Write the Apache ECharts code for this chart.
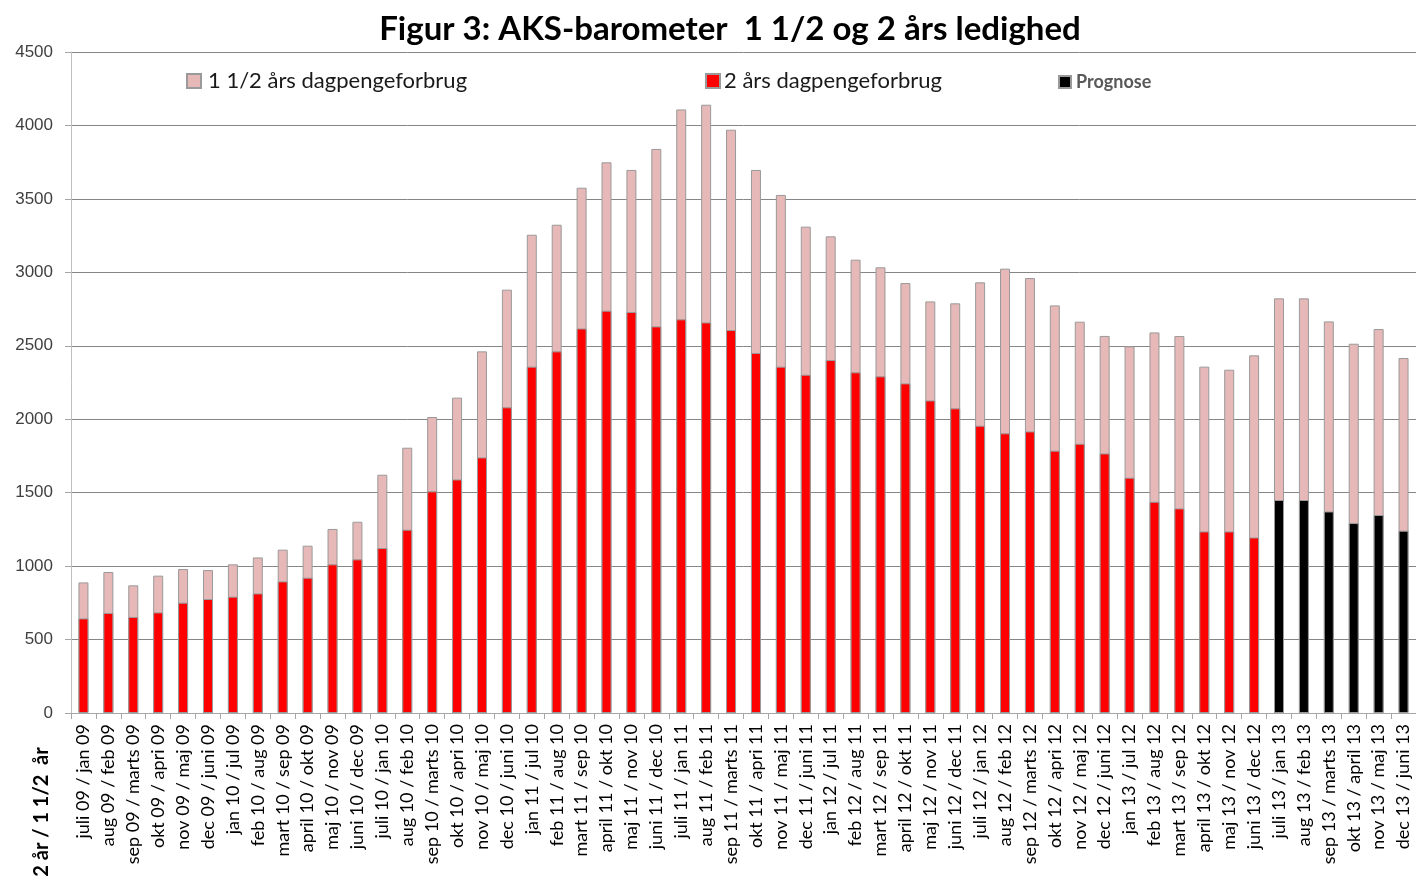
<!DOCTYPE html>
<html>
<head>
<meta charset="utf-8">
<script src="https://cdn.jsdelivr.net/npm/echarts@6/dist/echarts.min.js"></script>
<style>
  html, body { margin: 0; padding: 0; background: #fff; }
  #chart { width: 1416px; height: 880px; }
</style>
</head>
<body>
<div id="chart"></div>
<script>
// kategorier (x-akse)
const categories = [
  'juli 09 / jan 09', 'aug 09 / feb 09', 'sep 09 / marts 09', 'okt 09 / apri 09',
  'nov 09 / maj 09', 'dec 09 / juni 09', 'jan 10 / jul 09', 'feb 10 / aug 09',
  'mart 10 / sep 09', 'april 10 / okt 09', 'maj 10 / nov 09', 'juni 10 / dec 09',
  'juli 10 / jan 10', 'aug 10 / feb 10', 'sep 10 / marts 10', 'okt 10 / apri 10',
  'nov 10 / maj 10', 'dec 10 / juni 10', 'jan 11 / jul 10', 'feb 11 / aug 10',
  'mart 11 / sep 10', 'april 11 / okt 10', 'maj 11 / nov 10', 'juni 11 / dec 10',
  'juli 11 / jan 11', 'aug 11 / feb 11', 'sep 11 / marts 11', 'okt 11 / apri 11',
  'nov 11 / maj 11', 'dec 11 / juni 11', 'jan 12 / jul 11', 'feb 12 / aug 11',
  'mart 12 / sep 11', 'april 12 / okt 11', 'maj 12 / nov 11', 'juni 12 / dec 11',
  'juli 12 / jan 12', 'aug 12 / feb 12', 'sep 12 / marts 12', 'okt 12 / apri 12',
  'nov 12 / maj 12', 'dec 12 / juni 12', 'jan 13 / jul 12', 'feb 13 / aug 12',
  'mart 13 / sep 12', 'april 13 / okt 12', 'maj 13 / nov 12', 'juni 13 / dec 12',
  'juli 13 / jan 13', 'aug 13 / feb 13', 'sep 13 / marts 13', 'okt 13 / april 13',
  'nov 13 / maj 13', 'dec 13 / juni 13'
];

// 1 1/2 års dagpengeforbrug (hele søjlen)
const halvandetAar = [
  889, 960, 869, 935, 980, 973, 1012, 1059, 1112, 1139, 1253, 1302,
  1622, 1806, 2015, 2147, 2462, 2882, 3256, 3324, 3576, 3749, 3697, 3840,
  4109, 4141, 3971, 3697, 3527, 3311, 3245, 3086, 3034, 2927, 2802, 2789,
  2932, 3025, 2961, 2775, 2664, 2567, 2496, 2591, 2566, 2358, 2337, 2435,
  2823, 2823, 2666, 2514, 2614, 2417
];

// 2 års dagpengeforbrug (faktiske tal)
const toAar = [
  644, 681, 654, 685, 751, 776, 792, 814, 896, 921, 1012, 1046,
  1123, 1248, 1509, 1590, 1740, 2081, 2358, 2462, 2618, 2739, 2730, 2632,
  2680, 2659, 2607, 2451, 2358, 2303, 2403, 2319, 2292, 2244, 2128, 2074,
  1956, 1904, 1917, 1786, 1833, 1767, 1602, 1438, 1393, 1236, 1236, 1195
];

// prognose for 2 år (sidste 6 måneder)
const prognose = [1450, 1450, 1372, 1293, 1348, 1241];

const yTicks = { min: 0, max: 4500, interval: 500 };

const redData = categories.map((c, i) => (i < toAar.length ? toAar[i] : '-'));
const blackData = categories.map((c, i) => {
  const k = i - toAar.length;
  return k >= 0 ? prognose[k] : '-';
});

const chart = echarts.init(document.getElementById('chart'));

const barBorder = { borderColor: '#9a9a9a', borderWidth: 1 };

const option = {
  animation: false,
  title: {
    text: 'Figur 3: AKS-barometer  1 1/2 og 2 års ledighed',
    left: 725,
    top: 8,
    textAlign: 'center',
    textStyle: { fontFamily: 'Lato', fontWeight: 'bold', fontSize: 33, color: '#000' }
  },
  legend: [
    {
      data: ['1 1/2 års dagpengeforbrug'],
      icon: 'rect',
      padding: 0,
      left: 186, top: 70,
      itemWidth: 14, itemHeight: 14,
      textStyle: { fontFamily: 'Lato', fontSize: 22, color: '#1a1a1a', padding: [0, 0, 0, 2] }
    },
    {
      data: ['2 års dagpengeforbrug'],
      icon: 'rect',
      padding: 0,
      left: 705, top: 70,
      itemWidth: 14, itemHeight: 14,
      textStyle: { fontFamily: 'Lato', fontSize: 22, color: '#1a1a1a', padding: [0, 0, 0, -1] }
    },
    {
      data: ['Prognose'],
      icon: 'rect',
      padding: 0,
      left: 1058, top: 73,
      itemWidth: 12, itemHeight: 12,
      textStyle: { fontFamily: 'Lato', fontSize: 18, fontWeight: 'bold', color: '#595959', padding: [0, 0, 0, 0] }
    }
  ],
  grid: { left: 71, right: -2, top: 52, bottom: 167, containLabel: false },
  xAxis: {
    type: 'category',
    data: categories,
    axisLine: { lineStyle: { color: '#a6a6a6', width: 1 } },
    axisTick: { show: true, length: 6, lineStyle: { color: '#a6a6a6' } },
    axisLabel: {
      interval: 0, rotate: 90, margin: 11,
      fontFamily: 'Lato', fontSize: 18, color: '#000'
    }
  },
  yAxis: {
    type: 'value',
    min: yTicks.min, max: yTicks.max, interval: yTicks.interval,
    axisLine: { show: true, lineStyle: { color: '#bfbfbf' } },
    axisTick: { show: true, length: 6, lineStyle: { color: '#a6a6a6' } },
    splitLine: { lineStyle: { color: '#868686', width: 1 } },
    axisLabel: {
      margin: 18, fontFamily: 'Liberation Sans', fontSize: 17, color: '#404040',
      formatter: v => String(v)
    }
  },
  series: [
    {
      name: '1 1/2 års dagpengeforbrug',
      type: 'bar',
      barWidth: 10,
      barGap: '-100%',
      itemStyle: Object.assign({ color: '#e6b8b7' }, barBorder),
      data: halvandetAar
    },
    {
      name: '2 års dagpengeforbrug',
      type: 'bar',
      barWidth: 10,
      barGap: '-100%',
      itemStyle: Object.assign({ color: '#ff0000' }, barBorder),
      data: redData
    },
    {
      name: 'Prognose',
      type: 'bar',
      barWidth: 10,
      barGap: '-100%',
      itemStyle: Object.assign({ color: '#000000' }, barBorder),
      data: blackData
    }
  ],
  graphic: [
    {
      type: 'text',
      x: 42, y: 812,
      rotation: Math.PI / 2,
      style: {
        text: '2 år / 1 1/2  år',
        fontFamily: 'Lato', fontWeight: 'bold', fontSize: 20, fill: '#000',
        textAlign: 'center', textVerticalAlign: 'middle'
      }
    }
  ]
};

chart.setOption(option);
</script>
</body>
</html>
